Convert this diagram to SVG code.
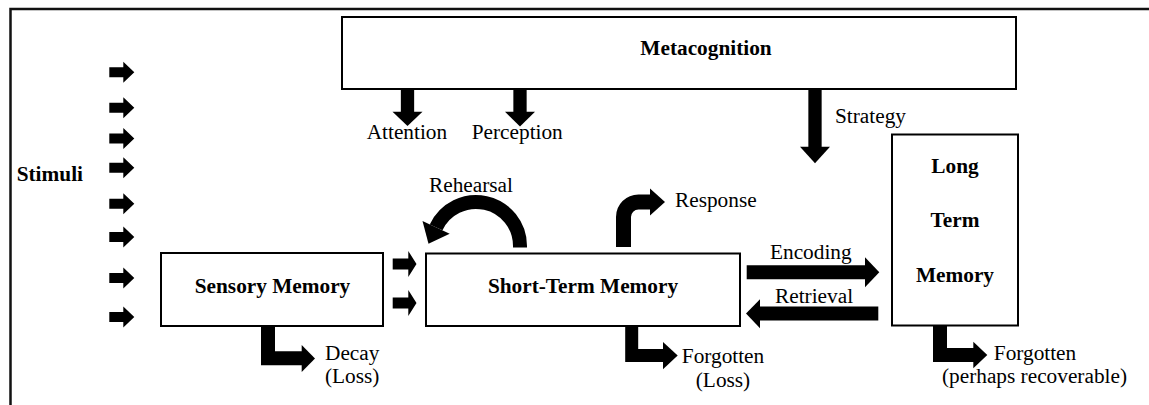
<svg xmlns="http://www.w3.org/2000/svg" xmlns:xlink="http://www.w3.org/1999/xlink" width="1149" height="405" viewBox="0 0 1149 405">
  <style>
    .frame { fill: none; stroke: #111; stroke-width: 2.5; }
    .box { fill: #fff; stroke: #000; stroke-width: 2; }
    .b { font-family: "Liberation Serif", "Times New Roman", serif; font-weight: bold; font-size: 21.3px; fill: #000; }
    .t { font-family: "Liberation Serif", "Times New Roman", serif; font-size: 21.3px; fill: #000; }
    .shaft { fill: none; stroke: #000; stroke-linejoin: miter; stroke-linecap: butt; }
    .head { fill: #000; stroke: none; }
  </style>
  <defs>
    <!-- small block arrow used for the incoming stimuli -->
    <polygon id="stim" class="head" points="109.3,-5 123.3,-5 123.3,-10.5 134.3,0 123.3,10.5 123.3,5 109.3,5"/>
    <!-- block arrow from sensory memory into short-term memory -->
    <polygon id="feed" class="head" points="392.7,-5.5 408.3,-5.5 408.3,-13 416.5,0 408.3,13 408.3,5.5 392.7,5.5"/>
  </defs>

  <!-- outer frame: top and left edges only -->
  <path class="frame" d="M10.5,405 V9 H1149"/>

  <g id="stimuli">
    <text class="b" x="16.7" y="181">Stimuli</text>
    <use xlink:href="#stim" y="72.2"/>
    <use xlink:href="#stim" y="107.8"/>
    <use xlink:href="#stim" y="138.5"/>
    <use xlink:href="#stim" y="167.8"/>
    <use xlink:href="#stim" y="203.7"/>
    <use xlink:href="#stim" y="237"/>
    <use xlink:href="#stim" y="278"/>
    <use xlink:href="#stim" y="317"/>
  </g>

  <g id="metacognition">
    <rect class="box" x="342" y="17" width="674" height="72"/>
    <text class="b" x="706" y="55" text-anchor="middle">Metacognition</text>
  </g>

  <g id="sensory-memory">
    <rect class="box" x="161" y="253" width="222" height="73"/>
    <text class="b" x="272.5" y="293" text-anchor="middle">Sensory Memory</text>
  </g>

  <g id="short-term-memory">
    <rect class="box" x="426" y="253.5" width="314" height="72.5"/>
    <text class="b" x="583" y="293" text-anchor="middle">Short-Term Memory</text>
  </g>

  <g id="long-term-memory">
    <rect class="box" x="892" y="134.5" width="126" height="191"/>
    <text class="b" x="955" y="173.3" text-anchor="middle">Long</text>
    <text class="b" x="955" y="226.7" text-anchor="middle">Term</text>
    <text class="b" x="955" y="281.7" text-anchor="middle">Memory</text>
  </g>

  <g id="connectors">
    <!-- metacognition controls -->
    <path class="shaft" stroke-width="13.3" d="M407.5,89 V112.5"/>
    <polygon class="head" points="392.5,111.7 422.5,111.7 407.5,126"/>
    <text class="t" x="366.7" y="139.3">Attention</text>

    <path class="shaft" stroke-width="13.3" d="M520,89 V112.5"/>
    <polygon class="head" points="505,111.7 535,111.7 520,126.5"/>
    <text class="t" x="471.7" y="139.3">Perception</text>

    <path class="shaft" stroke-width="13.3" d="M815,89 V147.5"/>
    <polygon class="head" points="800,146.7 830,146.7 815,163.3"/>
    <text class="t" x="835" y="123.3">Strategy</text>

    <!-- sensory memory to short-term memory -->
    <use xlink:href="#feed" y="264"/>
    <use xlink:href="#feed" y="303"/>

    <!-- decay from sensory memory -->
    <path class="shaft" stroke-width="14" d="M268,327 V358.3 H302.5"/>
    <polygon class="head" points="301.7,345 315,358.5 301.7,372"/>
    <text class="t" x="325" y="359.5">Decay</text>
    <text class="t" x="325" y="382.5">(Loss)</text>

    <!-- rehearsal loop -->
    <path class="shaft" stroke-width="14" d="M520,247.5 V246 A44,44 0 0 0 436.1,227.4"/>
    <polygon class="head" points="449.7,233.7 422.5,221.1 428.5,243.7"/>
    <text class="t" x="429" y="191.7">Rehearsal</text>

    <!-- response -->
    <path class="shaft" stroke-width="15" d="M623.5,247 V217 A15,15 0 0 1 638.5,202 H651"/>
    <polygon class="head" points="650,188.5 665,202 650,215.5"/>
    <text class="t" x="675" y="206.5">Response</text>

    <!-- forgetting from short-term memory -->
    <path class="shaft" stroke-width="13" d="M631.7,326 V355.6 H663.8"/>
    <polygon class="head" points="663,342 677.7,355.6 663,369.2"/>
    <text class="t" x="723" y="362.7" text-anchor="middle">Forgotten</text>
    <text class="t" x="723" y="386.7" text-anchor="middle">(Loss)</text>

    <!-- encoding and retrieval -->
    <path class="shaft" stroke-width="14" d="M746.7,272.2 H866"/>
    <polygon class="head" points="865,257.3 879.3,272.2 865,287.3"/>
    <text class="t" x="770" y="259.3">Encoding</text>

    <path class="shaft" stroke-width="14" d="M878.3,313.6 H759"/>
    <polygon class="head" points="760,299.3 746,313.6 760,328.3"/>
    <text class="t" x="775" y="302.7">Retrieval</text>

    <!-- forgetting from long-term memory -->
    <path class="shaft" stroke-width="14" d="M940,325 V355 H974"/>
    <polygon class="head" points="973.3,341.7 987.3,355 973.3,368.3"/>
    <text class="t" x="1035" y="360" text-anchor="middle">Forgotten</text>
    <text class="t" x="1034.5" y="383.3" text-anchor="middle">(perhaps recoverable)</text>
  </g>
</svg>
